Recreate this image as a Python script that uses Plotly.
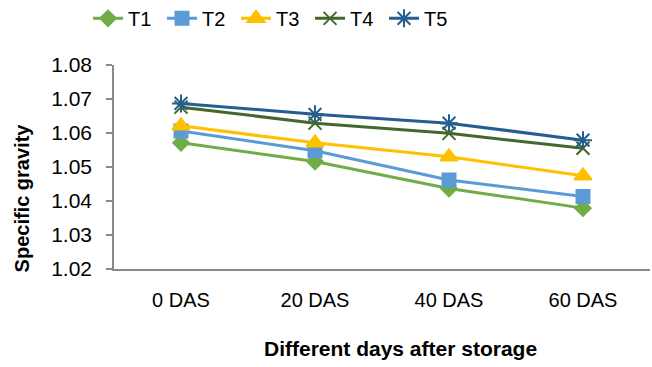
import plotly.graph_objects as go

categories = ["0 DAS", "20 DAS", "40 DAS", "60 DAS"]
series_names = ["T1", "T2", "T3", "T4", "T5"]
t1 = [1.0571, 1.0516, 1.0437, 1.0379]
t2 = [1.0606, 1.0548, 1.0462, 1.0413]
t3 = [1.0621, 1.0571, 1.0530, 1.0474]
t4 = [1.0676, 1.0629, 1.0599, 1.0555]
t5 = [1.0687, 1.0655, 1.0629, 1.0579]
y_ticks = [1.02, 1.03, 1.04, 1.05, 1.06, 1.07, 1.08]

colors = ["#70AD47", "#5B9BD5", "#FFC000", "#43682B", "#255E91"]
symbols = ["diamond", "square", "triangle-up", "x-thin-open", "asterisk-open"]
sizes = [12, 13, 15, 13, 15]
values = [t1, t2, t3, t4, t5]

fig = go.Figure()
for name, vals, c, s, sz in zip(series_names, values, colors, symbols, sizes):
    fig.add_trace(go.Scatter(
        x=categories, y=vals, name=name, mode="lines+markers",
        line=dict(color=c, width=3),
        marker=dict(symbol=s, size=sz, color=c, line=dict(color=c, width=2)),
    ))

fig.update_layout(
    width=652, height=367,
    margin=dict(l=114, r=2, t=65, b=98),
    paper_bgcolor="white", plot_bgcolor="white",
    font=dict(family="Liberation Sans, Arial, sans-serif", color="#000000"),
    showlegend=True,
    legend=dict(orientation="h", xref="container", yref="container",
                x=0.135, y=0.95, xanchor="left", yanchor="middle",
                font=dict(size=20), entrywidth=29, entrywidthmode="pixels",
                itemwidth=30, tracegroupgap=0,
                bgcolor="rgba(0,0,0,0)"),
    xaxis=dict(type="category", range=[-0.5, 3.5], showline=True,
               linecolor="#898989", linewidth=1.5, showgrid=False,
               ticks="", tickfont=dict(size=20), ticklabelstandoff=12),
    yaxis=dict(range=[1.02, 1.08], tickvals=y_ticks, tickformat=".2f",
               showline=True, linecolor="#898989", linewidth=1.5,
               showgrid=False, ticks="outside", ticklen=6, tickcolor="#898989",
               tickwidth=1.5, tickfont=dict(size=21), ticklabelstandoff=10,
               zeroline=False),
    annotations=[
        dict(text="<b>Specific gravity</b>", textangle=-90, xref="paper", yref="paper",
             x=-0.172, y=0.35, xanchor="center", yanchor="middle", showarrow=False,
             font=dict(size=20)),
        dict(text="<b>Different days after storage</b>", xref="paper", yref="paper",
             x=0.535, y=-0.39, xanchor="center", yanchor="middle", showarrow=False,
             font=dict(size=21)),
    ],
)

fig.write_html("out.html")
